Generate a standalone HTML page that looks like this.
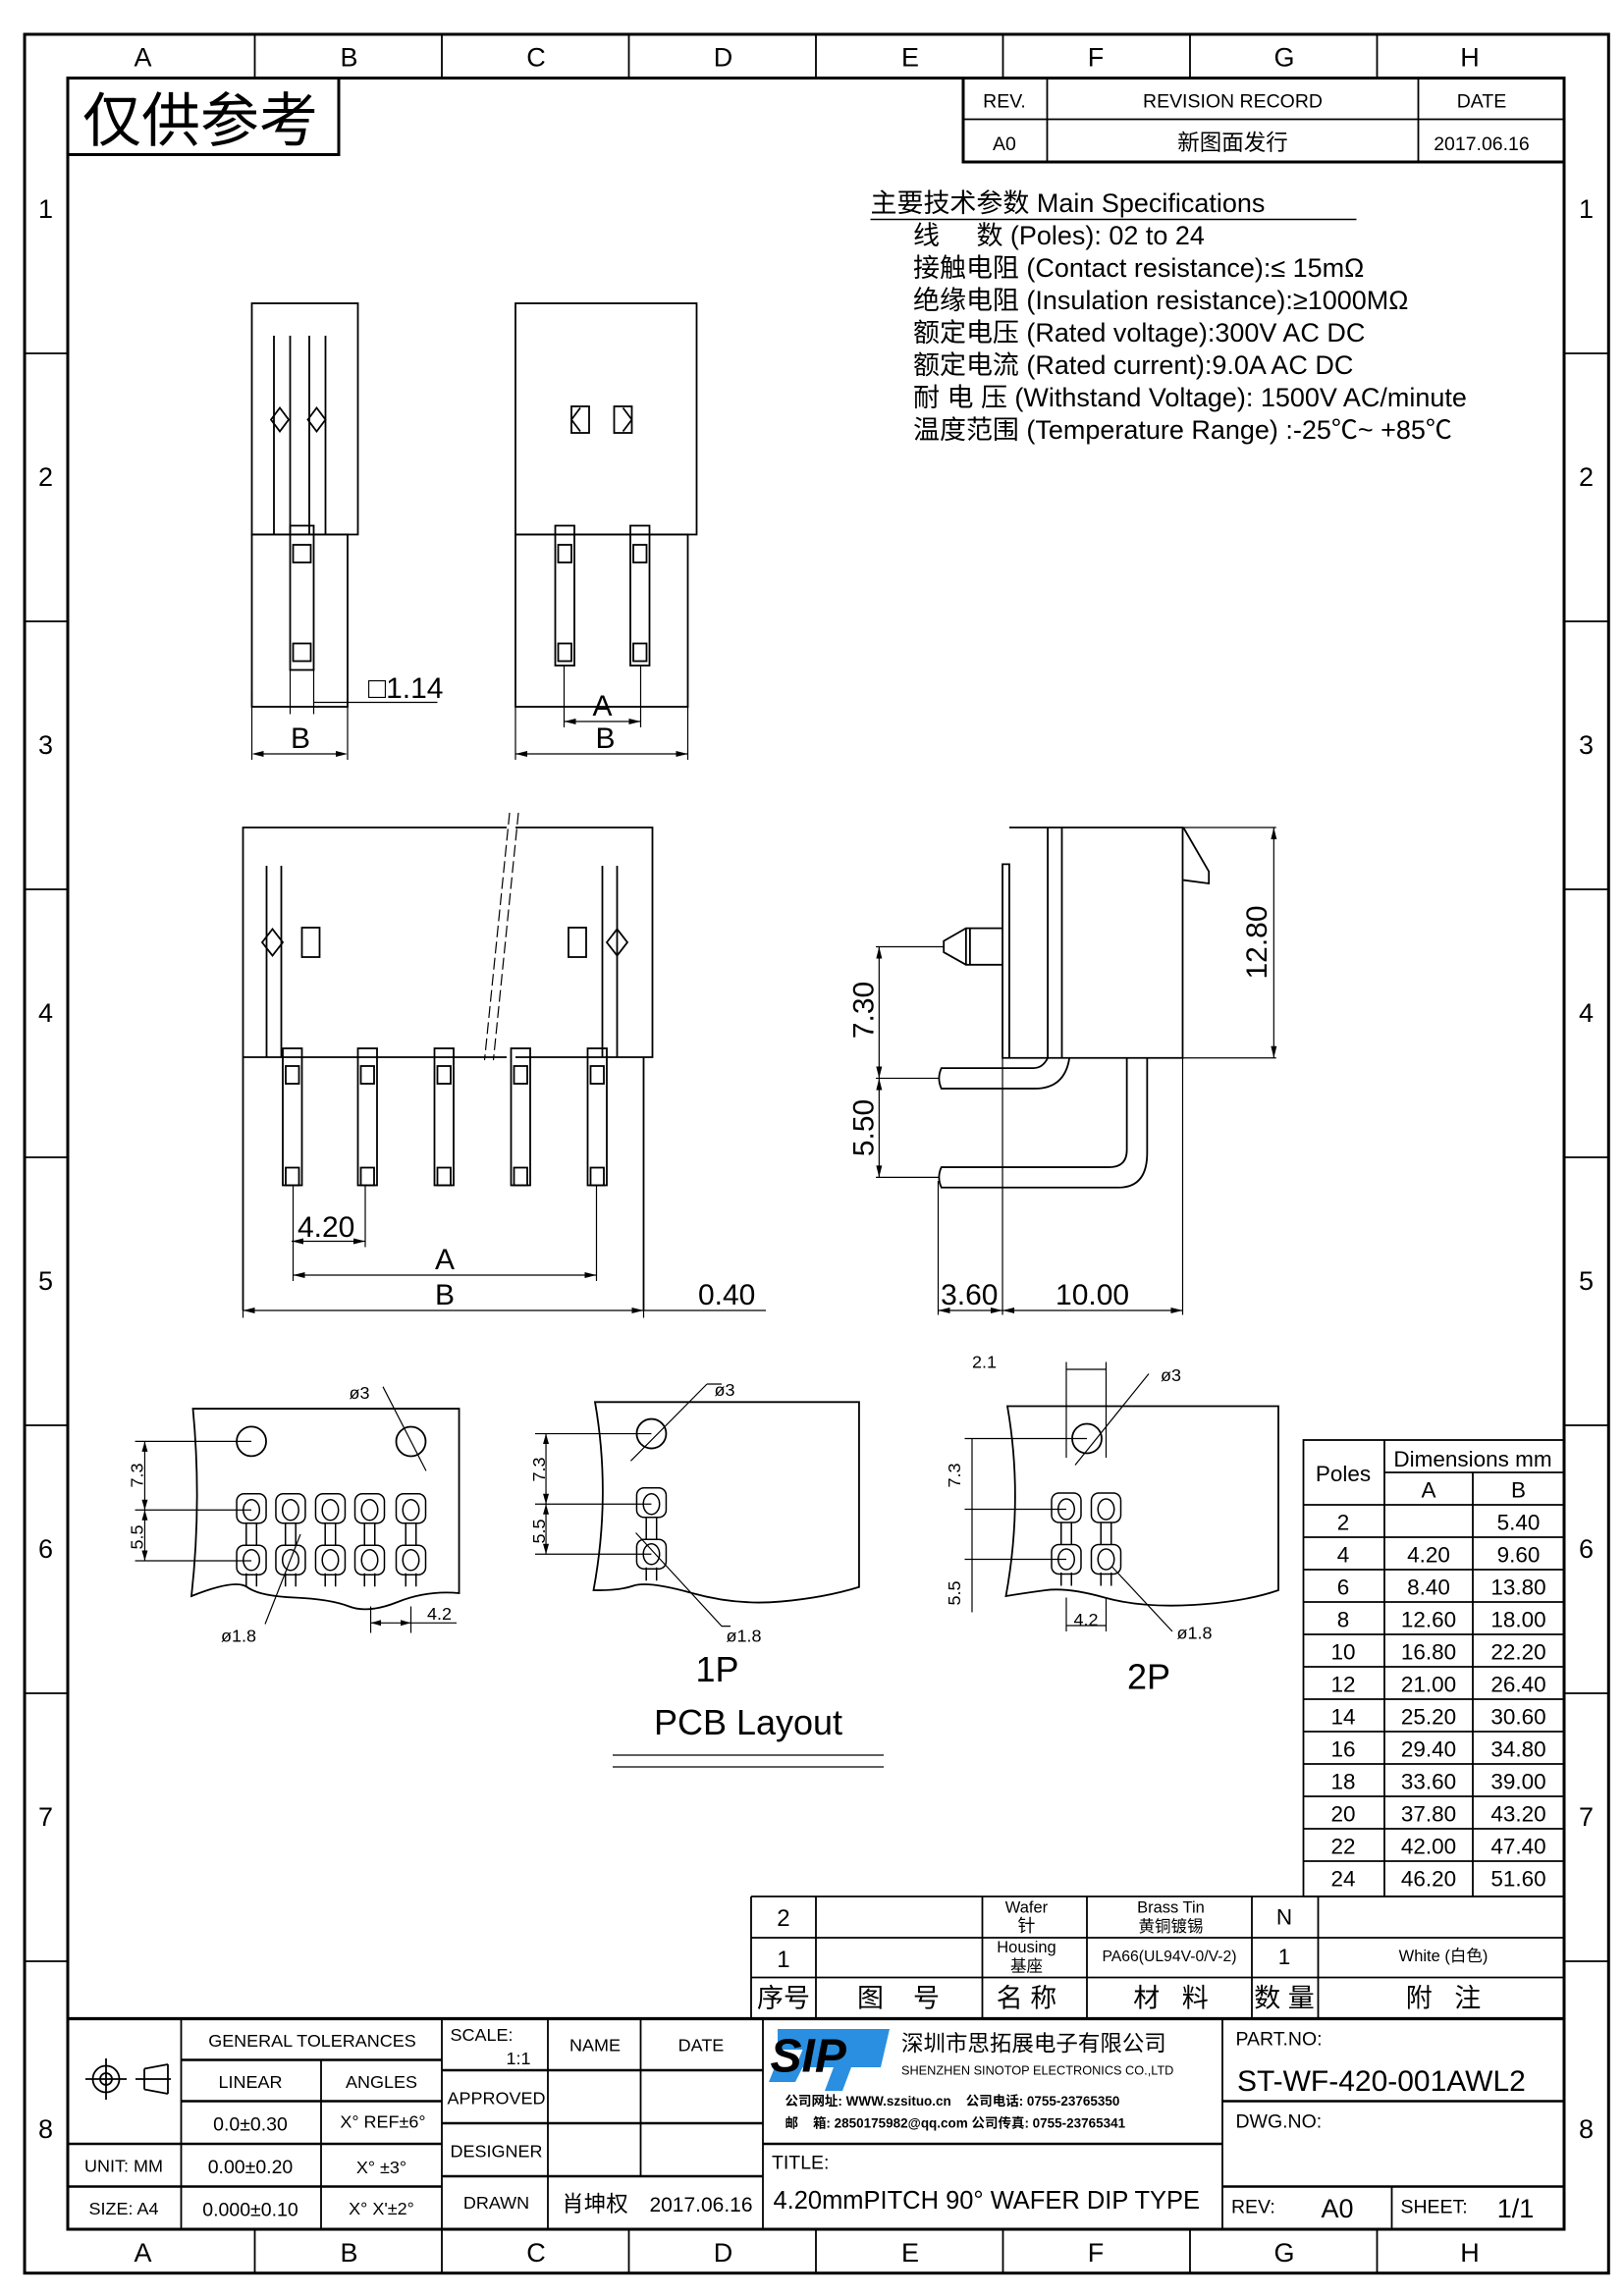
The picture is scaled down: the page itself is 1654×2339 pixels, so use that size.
<!DOCTYPE html>
<html><head><meta charset="utf-8"><style>
html,body{margin:0;padding:0;background:#fff}
svg{display:block}
text{font-family:"Liberation Sans","Noto Sans CJK SC",sans-serif;fill:#000}
.s{font-family:"Liberation Serif","Noto Serif CJK SC","Noto Sans CJK SC",serif}
</style></head><body>
<svg width="1654" height="2339" viewBox="0 0 1102.67 1559.33" preserveAspectRatio="none" xmlns="http://www.w3.org/2000/svg">
<defs>
<g id="pp" fill="none" stroke="#000" stroke-width="1">
<rect x="-10" y="-11" width="20" height="20" rx="5"/>
<path d="M-3.5 9V24M3.5 9V24M-3.5 43V52M3.5 43V52"/>
<rect x="-10" y="24" width="20" height="20" rx="5"/>
<ellipse cx="0" cy="0" rx="5.5" ry="7"/><ellipse cx="0" cy="34" rx="5.5" ry="7"/>
</g>
</defs>
<g fill="none" stroke="#000" stroke-width="1.2">
<rect x="16.7" y="23.3" width="1075.5" height="1520.5" stroke-width="2"/>
<rect x="46" y="53" width="1016" height="1461" stroke-width="2"/>
<path d="M173 23V53M300 23V53M427 23V53M554 23V53M681 23V53M808 23V53M935 23V53"/>
<path d="M173 1514V1544M300 1514V1544M427 1514V1544M554 1514V1544M681 1514V1544M808 1514V1544M935 1514V1544"/>
<path d="M17 240H46M17 422H46M17 604H46M17 786H46M17 968H46M17 1150H46M17 1332H46"/>
<path d="M1062 240H1092M1062 422H1092M1062 604H1092M1062 786H1092M1062 968H1092M1062 1150H1092M1062 1332H1092"/>
<rect x="46" y="53" width="184" height="52" stroke-width="2"/>
<rect x="654" y="53" width="408" height="57" stroke-width="2"/>
<path d="M654 81H1062M711 53V110M963 53V110"/>
</g>
<g font-size="18" text-anchor="middle">
<text x="97" y="45">A</text><text x="237" y="45">B</text><text x="364" y="45">C</text><text x="491" y="45">D</text><text x="618" y="45">E</text><text x="744" y="45">F</text><text x="872" y="45">G</text><text x="998" y="45">H</text>
<text x="97" y="1536">A</text><text x="237" y="1536">B</text><text x="364" y="1536">C</text><text x="491" y="1536">D</text><text x="618" y="1536">E</text><text x="744" y="1536">F</text><text x="872" y="1536">G</text><text x="998" y="1536">H</text>
<text x="31" y="148">1</text><text x="31" y="330">2</text><text x="31" y="512">3</text><text x="31" y="694">4</text><text x="31" y="876">5</text><text x="31" y="1058">6</text><text x="31" y="1240">7</text><text x="31" y="1452">8</text>
<text x="1077" y="148">1</text><text x="1077" y="330">2</text><text x="1077" y="512">3</text><text x="1077" y="694">4</text><text x="1077" y="876">5</text><text x="1077" y="1058">6</text><text x="1077" y="1240">7</text><text x="1077" y="1452">8</text>
</g>
<text x="56" y="96" font-size="40">仅供参考</text>
<g class="s" font-size="13" text-anchor="middle">
<text x="682" y="73">REV.</text><text x="837" y="73">REVISION RECORD</text><text x="1006" y="73">DATE</text>
<text x="682" y="102">A0</text><text x="837" y="102" font-size="15">新图面发行</text><text x="1006" y="102">2017.06.16</text>
</g>
<g class="s" font-size="18">
<text x="591" y="144">主要技术参数 Main Specifications</text>
<text x="620" y="166">线&#160;&#160;&#160;&#160;&#160;数 (Poles): 02 to 24</text>
<text x="620" y="188">接触电阻 (Contact resistance):≤ 15mΩ</text>
<text x="620" y="210">绝缘电阻 (Insulation resistance):≥1000MΩ</text>
<text x="620" y="232">额定电压 (Rated voltage):300V AC DC</text>
<text x="620" y="254">额定电流 (Rated current):9.0A AC DC</text>
<text x="620" y="276">耐 电 压 (Withstand Voltage): 1500V AC/minute</text>
<text x="620" y="298">温度范围 (Temperature Range) :-25℃~ +85℃</text>
</g>
<path d="M591 149H921" stroke="#000"/>

<g fill="none" stroke="#000" stroke-width="1.2">
<!-- view 1 -->
<rect x="171" y="206" width="72" height="157"/>
<rect x="171" y="363" width="65" height="117"/>
<path d="M186 228V363M197 228V363M210 228V363M221 228V363"/>
<path d="M184 285l6-8 6 8-6 8zM209 285l6-8 6 8-6 8z"/>
<rect x="197" y="357" width="16" height="98"/>
<rect x="199" y="370" width="12" height="12"/><rect x="199" y="437" width="12" height="12"/>
<path d="M171 470V516M236 470V516M197 455V485M213 455V485M213 477H297M175 512H232" stroke-width="0.8"/>
<!-- view 2 -->
<rect x="350" y="206" width="123" height="157"/>
<rect x="350" y="363" width="117" height="117"/>
<rect x="388" y="276" width="12" height="18"/><rect x="417" y="276" width="12" height="18"/>
<path d="M388 285l6-8M388 285l6 8M429 285l-6-8M429 285l-6 8"/>
<rect x="377" y="357" width="13" height="95"/><rect x="428" y="357" width="13" height="95"/>
<rect x="379" y="370" width="9" height="12"/><rect x="379" y="437" width="9" height="12"/>
<rect x="430" y="370" width="9" height="12"/><rect x="430" y="437" width="9" height="12"/>
<path d="M350 480V516M467 480V516M383 452V494M435 452V494M383 490H435M350 512H467" stroke-width="0.8"/>
<!-- front view -->
<path d="M344 562H165V890M344 718H165M350 562H443V718H437V890M350 718H437"/>
<path d="M352 552L335 720M346 552L329 720" stroke-dasharray="8,3" stroke-width="0.8"/>
<path d="M181 588V718M191 588V718M409 588V718M419 588V718"/>
<path d="M178 640l7-9 7 9-7 9zM412 640l7-9 7 9-7 9z"/>
<rect x="205" y="630" width="12" height="20"/><rect x="386" y="630" width="12" height="20"/>
<g id="lp"><rect x="192" y="712" width="13" height="93"/><rect x="194" y="724" width="9" height="12"/><rect x="194" y="793" width="9" height="12"/></g>
<use href="#lp" x="51"/><use href="#lp" x="103"/><use href="#lp" x="155"/><use href="#lp" x="207"/>
<path d="M199 805V870M248 805V847M405 805V870M165 890V895M437 890V895M198 843H248M199 866H405M165 890H437M437 890H520" stroke-width="0.8"/>
<!-- side view -->
<path d="M685.3 562H803V718.5H680.7V586.9H685.3V718.5M711.4 562V718.5M721 562V718.5"/>
<path d="M803.5 562L820.8 591.9V600L803.5 597.7"/>
<path d="M680.7 630.4H655.9L640.8 639.1V646.7L655.9 655.2H680.7M655.9 630.4V655.2M658.6 630.4V655.2"/>
<path d="M711.4 718.5Q708 725.4 701.6 725.4H639.2Q636 732.3 639.2 739.3H702.7Q723 739.3 726.1 718.5"/>
<path d="M765.1 718.5V781Q765.1 792.7 752.9 792.7H639.2Q636 799.6 639.2 806.5H759.5Q778.9 806.5 778.9 783V718.5"/>
<g stroke-width="0.8">
<path d="M803 562H866.5M803 718.5H866.5M864.9 562V718.5"/>
<path d="M594.7 643H640.8M594.7 732.3H637M594.7 799.6H637M596.9 643V799.6"/>
<path d="M637 802V893M680.7 718.5V893M803 718.5V893M637 890H803"/>
</g>
<!-- PCB left -->
<path d="M131 956.7H311.7V1082Q290 1080 270 1088T237 1091T200 1085T168 1078T130 1084Q137 1020 131 956.7Z"/>
<circle cx="170.7" cy="978.9" r="10"/><circle cx="279" cy="979" r="10"/>
<use href="#pp" x="170.7" y="1025.5"/><use href="#pp" x="197.3" y="1025.5"/><use href="#pp" x="224.3" y="1025.5"/><use href="#pp" x="251" y="1025.5"/><use href="#pp" x="279" y="1025.5"/>
<path d="M91.7 978.9H170.7M91.7 1025.5H170.7M91.7 1060H170.7M98.3 978.9V1060M260 941.8L289.3 998.9M180 1103L204 1042M251.7 1091V1109M279 1091V1109M251.7 1102.2H310" stroke-width="0.8"/>
<!-- 1P -->
<path d="M404 952.2H583.3V1077.8Q560 1085 530 1087.7T470 1082T430 1077T403 1080Q415 1015 404 952.2Z"/>
<circle cx="442.3" cy="973.7" r="10"/>
<use href="#pp" x="442.3" y="1021.5"/>
<path d="M480 940H490M480 940L428.3 992.2M363.3 973.7H442.3M363.3 1021.5H442.3M363.3 1055.5H442.3M370.7 973.7V1055.5M490 1104.4H496M490 1104.4L431.7 1041" stroke-width="0.8"/>
<!-- 2P -->
<path d="M684 955H868V1080Q845 1088 810 1090T750 1085T710 1080T683 1084Q695 1018 684 955Z"/>
<circle cx="738" cy="977" r="10"/>
<use href="#pp" x="724" y="1025"/><use href="#pp" x="751" y="1025"/>
<path d="M780 933L730 995M724 925V990M751 925V990M724 930H751M655 977H738M655 1025H724M655 1059H724M660 977V1095M724 1085V1108M751 1085V1108M724 1104H751M796 1108L755 1064" stroke-width="0.8"/>
<path d="M416 1192H600M416 1200H600" stroke-width="0.8"/>
<!-- dims table -->
<rect x="885" y="978" width="177" height="310"/>
<path d="M940 978V1288M1000 1000V1288M940 1000H1062M885 1022H1062M885 1044H1062M885 1066H1062M885 1088H1062M885 1110H1062M885 1132H1062M885 1154H1062M885 1176H1062M885 1198H1062M885 1220H1062M885 1242H1062M885 1264H1062"/>
<!-- BOM -->
<path d="M510 1288H1062M510 1316H1062M510 1343H1062M510 1288V1371M554 1288V1371M667 1288V1371M738 1288V1371M850 1288V1371M895 1288V1371"/>
<!-- title block -->
<path d="M46 1371H1062" stroke-width="2.2"/>
<path d="M123 1371V1514M218 1399V1514M300 1371V1514M372 1371V1514M435 1371V1478M518 1371V1514M830 1371V1514M945 1485V1514"/>
<path d="M123 1399H300M123 1427H300M46 1456H300M46 1485H300M300 1406H518M300 1442H518M300 1478H518M518 1456H830M830 1427H1062M830 1485H1062" stroke-width="1.6"/>
<circle cx="72" cy="1412" r="9"/><circle cx="72" cy="1412" r="4"/><path d="M58 1412H86M72 1398V1426M92 1412H116M98 1405V1419M114 1402L98 1405M114 1422L98 1419M114 1402V1422"/>
</g>
<g fill="#000">
<path d="M596.9 643l-2 8h4zM596.9 732.3l-2-8h4zM596.9 732.3l-2 8h4zM596.9 799.6l-2-8h4z"/>
<path d="M864.9 562l-2 8h4zM864.9 718.5l-2-8h4zM637 890l8-2v4zM680.7 890l-8-2v4zM680.7 890l8-2v4zM803 890l-8-2v4z"/>
<path d="M165 890l8-2v4zM437 890l-8-2v4zM199 866l8-2v4zM405 866l-8-2v4zM198 843l8-2v4zM248 843l-8-2v4z"/>
<path d="M383 490l8-2v4zM435 490l-8-2v4zM350 512l8-2v4zM467 512l-8-2v4zM171 512l8-2v4zM236 512l-8-2v4z"/>
<path d="M98.3 978.9l-2 7h4zM98.3 1025.5l-2-7h4zM98.3 1025.5l-2 7h4zM98.3 1060l-2-7h4z"/>
<path d="M370.7 973.7l-2 7h4zM370.7 1021.5l-2-7h4zM370.7 1021.5l-2 7h4zM370.7 1055.5l-2-7h4z"/>
<path d="M251.7 1102.2l7-2v4zM279 1102.2l-7-2v4z"/>
</g>
<g class="s" font-size="20" font-weight="300" fill="#333">
<text x="204" y="508" text-anchor="middle">B</text>
<text x="250" y="474">□1.14</text>
<text x="409" y="486" text-anchor="middle">A</text><text x="411" y="508" text-anchor="middle">B</text>
<text x="202" y="840">4.20</text><text x="302" y="862" text-anchor="middle">A</text><text x="302" y="886" text-anchor="middle">B</text>
<text x="474" y="886">0.40</text><text x="658.2" y="886" text-anchor="middle">3.60</text><text x="741.7" y="886" text-anchor="middle">10.00</text>
<text transform="translate(593 686) rotate(-90)" text-anchor="middle">7.30</text>
<text transform="translate(593 766) rotate(-90)" text-anchor="middle">5.50</text>
<text transform="translate(860 640) rotate(-90)" text-anchor="middle">12.80</text>
</g>
<g font-size="12">
<text x="237" y="950">ø3</text><text x="150" y="1115">ø1.8</text><text x="290" y="1100">4.2</text>
<text transform="translate(97 1002) rotate(-90)" text-anchor="middle">7.3</text><text transform="translate(97 1044) rotate(-90)" text-anchor="middle">5.5</text>
<text x="485" y="948">ø3</text><text x="493" y="1115">ø1.8</text>
<text transform="translate(370 998) rotate(-90)" text-anchor="middle">7.3</text><text transform="translate(370 1040) rotate(-90)" text-anchor="middle">5.5</text>
<text x="660" y="929">2.1</text><text x="788" y="938">ø3</text><text x="799" y="1113">ø1.8</text><text x="729" y="1104">4.2</text>
<text transform="translate(652 1002) rotate(-90)" text-anchor="middle">7.3</text><text transform="translate(652 1082) rotate(-90)" text-anchor="middle">5.5</text>
</g>
<g font-size="24" text-anchor="middle">
<text x="487" y="1142">1P</text><text x="780" y="1147">2P</text><text x="508" y="1178">PCB Layout</text>
</g>
<g font-size="15" text-anchor="middle">
<text x="912" y="1006">Poles</text><text x="1000" y="996">Dimensions mm</text><text x="970" y="1017">A</text><text x="1031" y="1017">B</text>
<text x="912" y="1039">2</text><text x="1031" y="1039">5.40</text>
<text x="912" y="1061">4</text><text x="970" y="1061">4.20</text><text x="1031" y="1061">9.60</text>
<text x="912" y="1083">6</text><text x="970" y="1083">8.40</text><text x="1031" y="1083">13.80</text>
<text x="912" y="1105">8</text><text x="970" y="1105">12.60</text><text x="1031" y="1105">18.00</text>
<text x="912" y="1127">10</text><text x="970" y="1127">16.80</text><text x="1031" y="1127">22.20</text>
<text x="912" y="1149">12</text><text x="970" y="1149">21.00</text><text x="1031" y="1149">26.40</text>
<text x="912" y="1171">14</text><text x="970" y="1171">25.20</text><text x="1031" y="1171">30.60</text>
<text x="912" y="1193">16</text><text x="970" y="1193">29.40</text><text x="1031" y="1193">34.80</text>
<text x="912" y="1215">18</text><text x="970" y="1215">33.60</text><text x="1031" y="1215">39.00</text>
<text x="912" y="1237">20</text><text x="970" y="1237">37.80</text><text x="1031" y="1237">43.20</text>
<text x="912" y="1259">22</text><text x="970" y="1259">42.00</text><text x="1031" y="1259">47.40</text>
<text x="912" y="1281">24</text><text x="970" y="1281">46.20</text><text x="1031" y="1281">51.60</text>
</g>
<g class="s" text-anchor="middle" font-size="11">
<text x="532" y="1308" font-size="16">2</text><text x="532" y="1336" font-size="16">1</text>
<text x="697" y="1299">Wafer</text><text x="697" y="1312" font-size="12">针</text>
<text x="697" y="1326">Housing</text><text x="697" y="1339">基座</text>
<text x="795" y="1299">Brass Tin</text><text x="795" y="1312">黄铜镀锡</text>
<text x="794" y="1332" font-size="10.5">PA66(UL94V-0/V-2)</text>
<text x="872" y="1307" font-size="15">N</text><text x="872" y="1334" font-size="15">1</text>
<text x="980" y="1332">White (白色)</text>
<g font-size="18"><text x="532" y="1363">序号</text><text x="610" y="1363">图&#160;&#160;&#160;&#160;号</text><text x="697" y="1363">名 称</text><text x="795" y="1363">材&#160;&#160;&#160;料</text><text x="872" y="1363">数 量</text><text x="980" y="1363">附&#160;&#160;&#160;注</text></g>
<g font-size="12">
<text x="212" y="1390">GENERAL TOLERANCES</text>
<text x="170" y="1418">LINEAR</text><text x="259" y="1418">ANGLES</text>
<text x="170" y="1447" font-size="13">0.0±0.30</text><text x="260" y="1445">X° REF±6°</text>
<text x="84" y="1475">UNIT: MM</text><text x="170" y="1476" font-size="13">0.00±0.20</text><text x="259" y="1476">X° ±3°</text>
<text x="84" y="1504">SIZE: A4</text><text x="170" y="1505" font-size="13">0.000±0.10</text><text x="259" y="1504">X° X'±2°</text>
<text x="327" y="1386">SCALE:</text><text x="352" y="1402">1:1</text>
<text x="404" y="1393">NAME</text><text x="476" y="1393">DATE</text>
<text x="337" y="1429">APPROVED</text><text x="337" y="1465">DESIGNER</text><text x="337" y="1500">DRAWN</text>
<text x="404" y="1502" font-size="15">肖坤权</text><text x="476" y="1502" font-size="14">2017.06.16</text>
</g>
<text x="612" y="1393" font-size="15" text-anchor="start">深圳市思拓展电子有限公司</text>
<text x="612" y="1409" font-size="8.5" text-anchor="start">SHENZHEN SINOTOP ELECTRONICS CO.,LTD</text>
<text x="533" y="1430" font-size="9" text-anchor="start" font-weight="bold">公司网址: WWW.szsituo.cn&#160;&#160;&#160;&#160;公司电话: 0755-23765350</text>
<text x="533" y="1445" font-size="9" text-anchor="start" font-weight="bold">邮&#160;&#160;&#160;&#160;箱: 2850175982@qq.com&#160;公司传真: 0755-23765341</text>
<text x="524" y="1473" font-size="13" text-anchor="start">TITLE:</text>
<text x="525" y="1500" font-size="17" text-anchor="start">4.20mmPITCH 90° WAFER DIP TYPE</text>
<text x="839" y="1389" font-size="13" text-anchor="start">PART.NO:</text>
<text x="839" y="1445" font-size="13" text-anchor="start">DWG.NO:</text>
<text x="836" y="1503" font-size="13" text-anchor="start">REV:</text><text x="908" y="1506" font-size="18">A0</text>
<text x="951" y="1503" font-size="13" text-anchor="start">SHEET:</text><text x="1029" y="1506" font-size="18">1/1</text>
</g>
<text x="840" y="1420" font-size="20">ST-WF-420-001AWL2</text>
<g fill="#2a8fe0">
<path d="M528 1378H604L598 1404H578L572 1420H560L566 1404H545L540 1414H522L526 1404H540L545 1392H528Z"/>
<text x="523" y="1407" font-size="32" font-style="italic" font-weight="bold" fill="#2a8fe0">SIP</text>
</g>
</svg>
</body></html>
